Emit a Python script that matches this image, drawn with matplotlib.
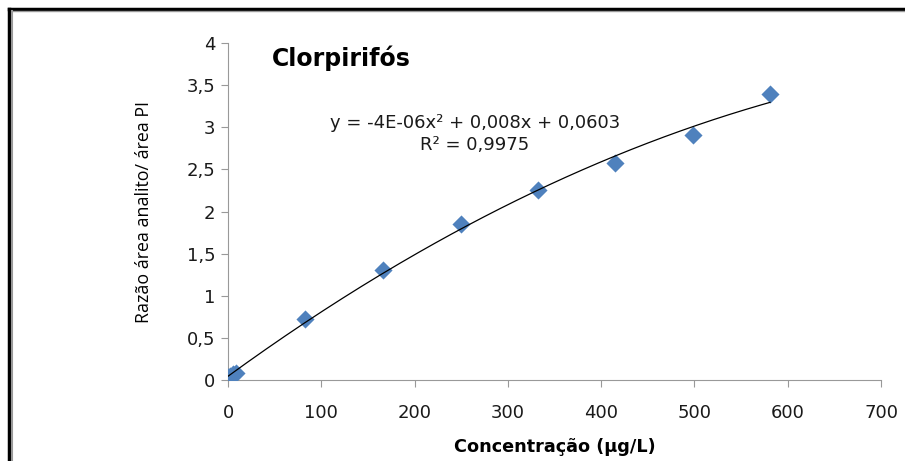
import numpy as np
import matplotlib.pyplot as plt
from matplotlib.lines import Line2D

# calibration data
conc = [0, 2, 5, 8, 83, 166, 250, 332, 415, 498, 581]
ratio = [0.04, 0.05, 0.07, 0.08, 0.72, 1.31, 1.85, 2.26, 2.58, 2.91, 3.39]
xticks = [0, 100, 200, 300, 400, 500, 600, 700]
yticks = [0, 0.5, 1, 1.5, 2, 2.5, 3, 3.5, 4]
ytick_labels = ['0', '0,5', '1', '1,5', '2', '2,5', '3', '3,5', '4']

plt.rcParams['font.family'] = ['DejaVu Sans']

fig = plt.figure(figsize=(9.05, 4.61), dpi=100)
ax = fig.add_axes([0.252, 0.1757, 0.7215, 0.731])

ax.scatter(conc, ratio, marker='D', s=85, color='#4F81BD', zorder=3, linewidths=0)

coef = np.polyfit(conc, ratio, 2)
xs = np.linspace(min(conc), max(conc), 200)
ax.plot(xs, np.polyval(coef, xs), color='black', lw=0.9, zorder=4)

ax.set_xlim(0, 700)
ax.set_ylim(0, 4)
ax.set_xticks(xticks)
ax.set_yticks(yticks)
ax.set_yticklabels(ytick_labels)
ax.tick_params(labelsize=13, colors='#999999', labelcolor='#1a1a1a', length=5)
ax.tick_params(axis='x', pad=12)
ax.tick_params(axis='y', pad=4)
for s in ['top', 'right']:
    ax.spines[s].set_visible(False)
for s in ['left', 'bottom']:
    ax.spines[s].set_color('#999999')

ax.set_xlabel('Concentração (µg/L)', fontsize=12.7, fontweight='bold', labelpad=12)
ax.set_ylabel('Razão área analito/ área PI', fontsize=12.8, labelpad=24,
              family=['Open Sans', 'DejaVu Sans'])

ax.text(0.067, 0.956, 'Clorpirifós', transform=ax.transAxes, fontsize=17, fontweight='bold',
        ha='left', va='center')
ax.text(0.378, 0.73, 'y = -4E-06x² + 0,008x + 0,0603\nR² = 0,9975', transform=ax.transAxes,
        fontsize=13, ha='center', va='center', linespacing=1.25, color='#1a1a1a')

# outer frame (black with grey inner line)
fig.add_artist(Line2D([9/905, 1], [1 - 9/461, 1 - 9/461], color='black', lw=2.5))
fig.add_artist(Line2D([9/905, 9/905], [0, 1 - 9/461], color='black', lw=2.5))
fig.add_artist(Line2D([11.5/905, 1], [1 - 11/461, 1 - 11/461], color='#999999', lw=1))
fig.add_artist(Line2D([11.5/905, 11.5/905], [0, 1 - 11/461], color='#999999', lw=1.5))

fig.savefig('out.png', dpi=100)
